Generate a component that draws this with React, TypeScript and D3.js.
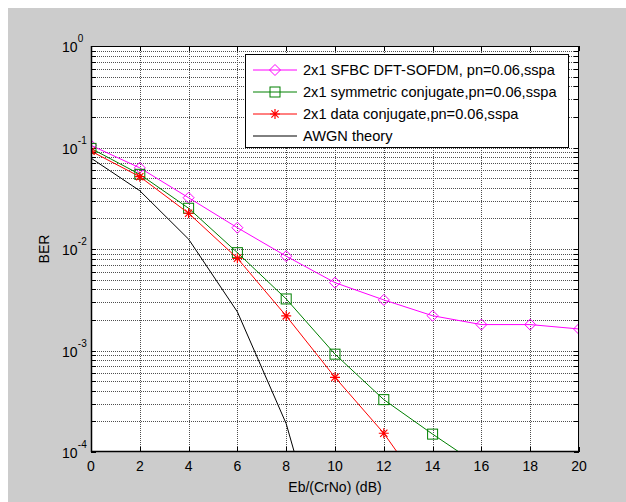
import React from "react";
import * as d3 from "d3";

const snr = [0, 2, 4, 6, 8, 10, 12, 14, 16, 18, 20];
const sfbcBer = [0.105, 0.063, 0.032, 0.0162, 0.0085, 0.00466, 0.00315, 0.0022, 0.0018, 0.0018, 0.00163];
const symBer = [0.098, 0.0544, 0.0252, 0.0092, 0.00322, 0.00092, 0.000328, 0.00015, 0.000071];
const dataBer = [0.092, 0.0516, 0.0225, 0.0081, 0.00219, 0.000544, 0.000153, 0.000032];
const awgnBer = [0.0786, 0.0375, 0.0125, 0.0024, 0.00019, 0.0000039];

const legendLabels = [
  "2x1 SFBC DFT-SOFDM, pn=0.06,sspa",
  "2x1 symmetric conjugate,pn=0.06,sspa",
  "2x1 data conjugate,pn=0.06,sspa",
  "AWGN theory",
];
const xTicks = [0, 2, 4, 6, 8, 10, 12, 14, 16, 18, 20];
const yDecades = [0, -1, -2, -3, -4];

const W = 626, H = 502;
const L = 91, R = 579, T = 46, B = 452;
const FONT = "'Liberation Sans', Arial, Helvetica, sans-serif";

type Marker = "diamond" | "square" | "star" | "none";

function MarkerShape({ type, x, y, color }: { type: Marker; x: number; y: number; color: string }) {
  if (type === "diamond") {
    const s = 5.5;
    return <path d={`M${x},${y - s}L${x + s},${y}L${x},${y + s}L${x - s},${y}Z`} fill="none" stroke={color} strokeWidth={1} />;
  }
  if (type === "square") {
    const s = 5;
    return <rect x={x - s} y={y - s} width={2 * s} height={2 * s} fill="none" stroke={color} strokeWidth={1} />;
  }
  if (type === "star") {
    const s = 5, d = 3.6;
    return (
      <path
        d={`M${x - s},${y}L${x + s},${y}M${x},${y - s}L${x},${y + s}M${x - d},${y - d}L${x + d},${y + d}M${x - d},${y + d}L${x + d},${y - d}`}
        stroke={color}
        strokeWidth={1.2}
        fill="none"
      />
    );
  }
  return null;
}

export default function App() {
  const x = d3.scaleLinear().domain([0, 20]).range([L, R]);
  const y = d3.scaleLog().domain([1e-4, 1]).range([B, T]);

  const series: { vals: number[]; color: string; marker: Marker }[] = [
    { vals: sfbcBer, color: "#ff00ff", marker: "diamond" },
    { vals: symBer, color: "#008000", marker: "square" },
    { vals: dataBer, color: "#ff0000", marker: "star" },
    { vals: awgnBer, color: "#000000", marker: "none" },
  ];

  const line = d3
    .line<[number, number]>()
    .x((d) => x(d[0]))
    .y((d) => y(d[1]));

  const minorY: number[] = [];
  for (let e = -4; e < 0; e++) {
    for (let m = 2; m <= 9; m++) minorY.push(m * Math.pow(10, e));
  }
  const majorY = yDecades.map((e) => Math.pow(10, e));
  const allY = [...majorY, ...minorY];

  const legX0 = 245, legY0 = 54, legX1 = 568, legY1 = 147;
  const rowY = [70, 92, 114, 136];

  return (
    <svg
      width={W}
      height={H}
      style={{ position: "fixed", left: 0, top: 0, display: "block" }}
      fontFamily={FONT}
    >
      <rect x={0} y={0} width={W} height={H} fill="#ffffff" />
      <rect x={8} y={8} width={W - 8} height={H - 8} fill="#cccccc" />
      <rect x={L} y={T} width={R - L} height={B - T} fill="#ffffff" />
      <defs>
        <clipPath id="plotclip">
          <rect x={L} y={T} width={R - L} height={B - T} />
        </clipPath>
      </defs>

      {/* grid */}
      <g stroke="#222" strokeWidth={1} strokeDasharray="1 1" opacity={0.8}>
        {xTicks.slice(1, -1).map((t) => (
          <line key={"gx" + t} x1={Math.round(x(t)) + 0.5} x2={Math.round(x(t)) + 0.5} y1={T} y2={B} />
        ))}
        {allY
          .filter((v) => v > 1e-4 && v < 1)
          .map((v, i) => (
            <line key={"gy" + i} x1={L} x2={R} y1={Math.round(y(v)) + 0.5} y2={Math.round(y(v)) + 0.5} />
          ))}
      </g>

      {/* ticks */}
      <g stroke="#000" strokeWidth={1}>
        {xTicks.map((t) => (
          <g key={"tx" + t}>
            <line x1={Math.round(x(t)) + 0.5} x2={Math.round(x(t)) + 0.5} y1={B} y2={B - 5} />
            <line x1={Math.round(x(t)) + 0.5} x2={Math.round(x(t)) + 0.5} y1={T} y2={T + 5} />
          </g>
        ))}
        {allY.map((v, i) => (
          <g key={"ty" + i}>
            <line x1={L} x2={L + 5} y1={Math.round(y(v)) + 0.5} y2={Math.round(y(v)) + 0.5} />
            <line x1={R} x2={R - 5} y1={Math.round(y(v)) + 0.5} y2={Math.round(y(v)) + 0.5} />
          </g>
        ))}
      </g>

      {/* data */}
      <g clipPath="url(#plotclip)">
        {series.map((s, si) => {
          const pts: [number, number][] = s.vals.map((v, i) => [snr[i], v]);
          return (
            <g key={"s" + si}>
              <path d={line(pts) || ""} fill="none" stroke={s.color} strokeWidth={1} />
              {pts
                .filter((p) => p[1] >= 1e-4)
                .map((p, i) => (
                  <MarkerShape key={i} type={s.marker} x={x(p[0])} y={y(p[1])} color={s.color} />
                ))}
            </g>
          );
        })}
      </g>

      {/* axes box */}
      <rect x={L + 0.5} y={T + 0.5} width={R - L - 1} height={B - T - 1} fill="none" stroke="#000" strokeWidth={1} />
      <line x1={L} x2={R} y1={B - 0.5} y2={B - 0.5} stroke="#000" strokeWidth={1.5} />
      <line x1={L + 0.5} x2={L + 0.5} y1={T} y2={B} stroke="#000" strokeWidth={1.5} />

      {/* tick labels */}
      <g fontSize={14} fill="#000">
        {xTicks.map((t) => (
          <text key={"lx" + t} x={x(t)} y={471} textAnchor="middle">
            {t}
          </text>
        ))}
        {yDecades.map((e) => (
          <g key={"ly" + e}>
            <text x={77.5} y={y(Math.pow(10, e)) + 6} textAnchor="end">
              10
            </text>
            <text x={77.8} y={y(Math.pow(10, e)) - 4} fontSize={10}>
              {e === 0 ? "0" : `-${-e}`}
            </text>
          </g>
        ))}
      </g>

      {/* axis titles */}
      <text x={(L + R) / 2} y={492} textAnchor="middle" fontSize={14}>
        Eb/(CrNo) (dB)
      </text>
      <text transform={`translate(49,${(T + B) / 2}) rotate(-90)`} textAnchor="middle" fontSize={14}>
        BER
      </text>

      {/* legend */}
      <rect x={legX0 + 0.5} y={legY0 + 0.5} width={legX1 - legX0} height={legY1 - legY0} fill="#fff" stroke="#000" strokeWidth={1} />
      {series.map((s, i) => (
        <g key={"lg" + i}>
          <line x1={253} x2={297} y1={rowY[i]} y2={rowY[i]} stroke={s.color} strokeWidth={1} />
          <MarkerShape type={s.marker} x={275} y={rowY[i]} color={s.color} />
          <text x={303} y={rowY[i] + 5} fontSize={14.6}>
            {legendLabels[i]}
          </text>
        </g>
      ))}
    </svg>
  );
}
